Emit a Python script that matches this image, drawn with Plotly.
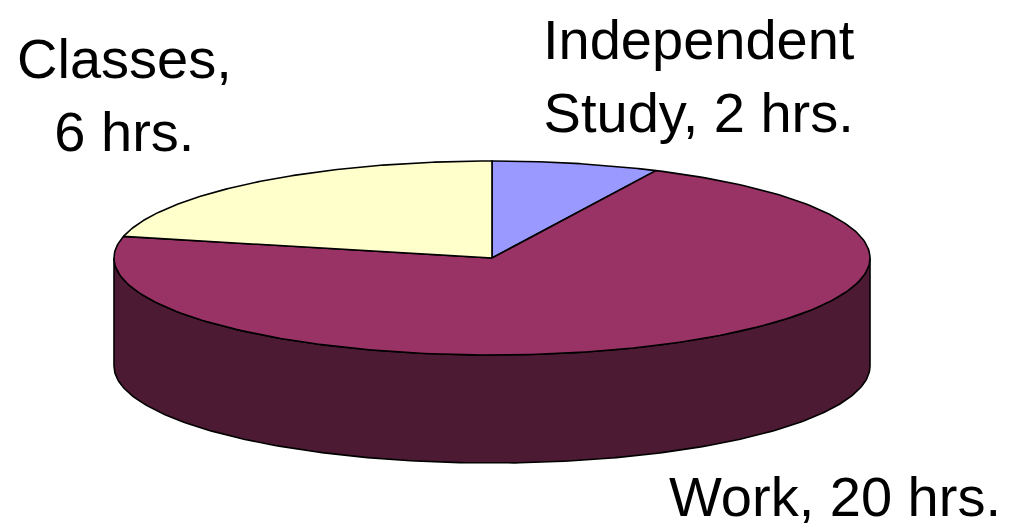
import numpy as np
import plotly.graph_objects as go

# ---- data ----
categories = ["Independent Study", "Work", "Classes"]
hours = [2, 20, 6]
label_texts = ["Independent<br>Study, 2 hrs.", "Work, 20 hrs.", "Classes,<br>6 hrs."]
top_colors = ["#9999FF", "#993366", "#FFFFCC"]
side_colors = ["#4D4D80", "#4C1A33", "#808066"]

# ---- geometry of the 3-D pie (in page-pixel-like axis units) ----
W, H = 1012, 529
OFF = 8  # default page body margin
CX, CY, RX, RY, DEPTH = 492, 258, 378, 97, 108
label_pos = [(699, 76), (835, 496), (124, 95)]
FONT = dict(family="Liberation Sans, Arial, sans-serif", size=56, color="black")


def arc(a0, a1, dy=0.0, n=240):
    t = np.radians(np.linspace(a0, a1, n))
    return CX + RX * np.sin(t), CY - RY * np.cos(t) + dy


fig = go.Figure()

total = float(sum(hours))
starts = np.cumsum([0] + hours[:-1]) / total * 360.0
ends = np.cumsum(hours) / total * 360.0

# side walls (front half only: 90..270 deg clockwise from 12 o'clock)
for s, e, col, name in zip(starts, ends, side_colors, categories):
    lo, hi = max(s, 90.0), min(e, 270.0)
    if lo < hi:
        xt, yt = arc(lo, hi)
        xb, yb = arc(hi, lo, DEPTH)
        xs = np.concatenate([xt, xb, xt[:1]])
        ys = np.concatenate([yt, yb, yt[:1]])
        fig.add_trace(go.Scatter(x=xs, y=ys, mode="lines", fill="toself",
                                 fillcolor=col, line=dict(color="black", width=1.6),
                                 hoverinfo="skip", showlegend=False, name=name))

# top faces
for s, e, col, name in zip(starts, ends, top_colors, categories):
    xa, ya = arc(s, e)
    xs = np.concatenate([[CX], xa, [CX]])
    ys = np.concatenate([[CY], ya, [CY]])
    fig.add_trace(go.Scatter(x=xs, y=ys, mode="lines", fill="toself",
                             fillcolor=col, line=dict(color="black", width=1.6),
                             hoverinfo="text", text=name, showlegend=False, name=name))

for txt, (lx, ly) in zip(label_texts, label_pos):
    fig.add_annotation(x=lx, y=ly, xref="x", yref="y", text=txt, showarrow=False,
                       font=FONT, xanchor="center", yanchor="middle", align="center")

fig.update_xaxes(range=[OFF, W + OFF], visible=False, showgrid=False, zeroline=False)
fig.update_yaxes(range=[H + OFF, OFF], visible=False, showgrid=False, zeroline=False)
fig.update_layout(width=W, height=H, margin=dict(l=0, r=0, t=0, b=0),
                  paper_bgcolor="white", plot_bgcolor="white", showlegend=False)

fig.write_html("out.html")
